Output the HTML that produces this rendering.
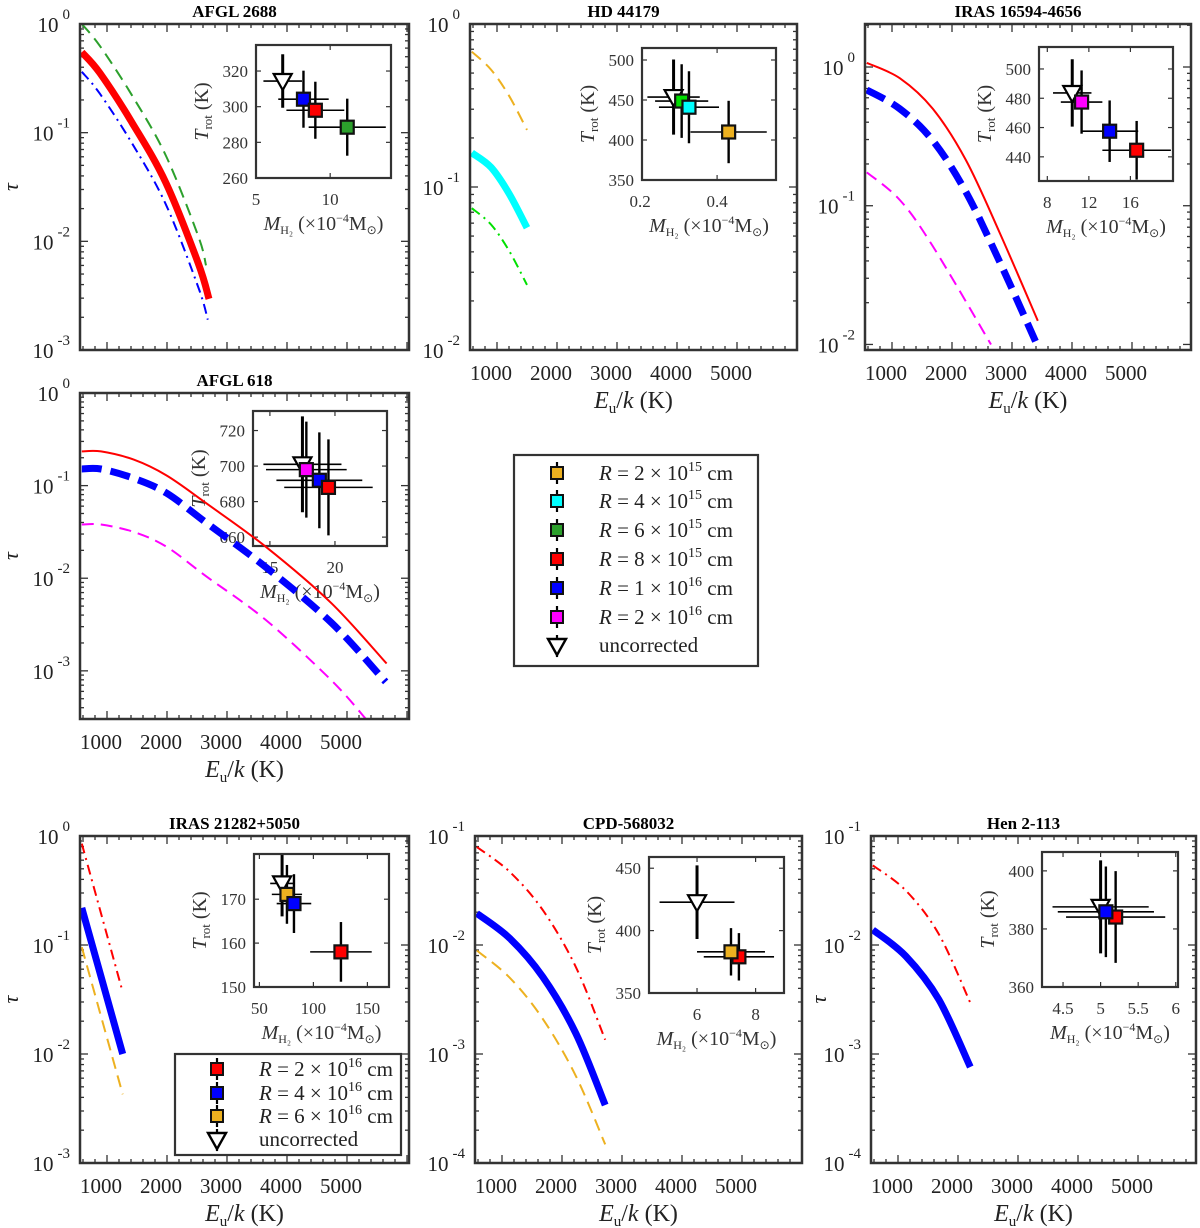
<!DOCTYPE html>
<html><head><meta charset="utf-8"><style>
html,body{margin:0;padding:0;background:#fff;}
svg{display:block;font-family:"Liberation Serif",serif;}
</style></head><body>
<svg id="fig" width="1200" height="1228" viewBox="0 0 1200 1228" xmlns="http://www.w3.org/2000/svg"></svg>
<script>
// ===== Panel 1: AFGL 2688 =====
const p1GreenE=[680,980,1520,2080,2620,2750];
const p1GreenTau=[1.0,0.63,0.219,0.0617,0.0112,0.006];
const p1RedE=[680,980,1520,2080,2620,2800];
const p1RedTau=[0.55,0.355,0.123,0.0347,0.0063,0.00295];
const p1BlueE=[680,980,1520,2080,2620,2780];
const p1BlueTau=[0.363,0.229,0.0794,0.0219,0.0038,0.0019];
// ===== Panel 2: HD 44179 =====
const p2E=[680,1000,1300,1600];
const p2OrangeTau=[0.676,0.525,0.363,0.224];
const p2CyanTau=[0.162,0.132,0.0912,0.0562];
const p2GreenTau=[0.0741,0.0589,0.0407,0.0251];
// ===== Panel 3: IRAS 16594-4656 =====
const p3RedE=[680,1230,1780,2330,2890,3530];
const p3RedTau=[1.07,0.83,0.50,0.214,0.0646,0.0148];
const p3BlueE=[680,1230,1780,2330,2890,3515];
const p3BlueTau=[0.684,0.50,0.295,0.126,0.0398,0.01];
const p3MagE=[680,1230,1776,2750];
const p3MagTau=[0.174,0.11,0.0513,0.01];
// ===== Panel 4: AFGL 618 =====
const p4RedE=[680,1000,1545,2090,2753,3745,4840,5760];
const p4RedTau=[0.234,0.234,0.191,0.129,0.0646,0.0219,0.00537,0.0012];
const p4BlueE=[680,1000,1545,2090,2753,3745,4840,5745];
const p4BlueTau=[0.151,0.151,0.120,0.0832,0.0398,0.0132,0.00331,0.00076];
const p4MagE=[680,1000,1545,2090,2753,3745,4840,5420];
const p4MagTau=[0.038,0.038,0.0316,0.0219,0.0105,0.00355,0.00079,0.0003];
// ===== Panel 7: IRAS 21282+5050 =====
const p7E=[680,1362];
const p7RedTau=[0.85,0.037];
const p7BlueTau=[0.219,0.01];
const p7OrangeTau=[0.0955,0.00427];
// ===== Panel 8: CPD-568032 =====
const p8E=[680,1230,1780,2330,2820];
const p8RedTau=[0.0794,0.0468,0.0209,0.0063,0.00135];
const p8BlueTau=[0.0195,0.0115,0.0051,0.00155,0.00034];
const p8OrangeTau=[0.0089,0.005,0.0021,0.00063,0.000148];
// ===== Panel 9: Hen 2-113 =====
const p9E=[680,1230,1780,2305];
const p9RedTau=[0.0537,0.0316,0.0126,0.00295];
const p9BlueTau=[0.0138,0.0079,0.00316,0.00076];
// ===== Insets: mass, mass error, Trot, Trot error =====
const i1Mass=[6.8,8.2,9.0,11.15], i1MassErr=[1.3,1.7,1.95,2.6], i1Trot=[314.4,304.2,298,288.5], i1TrotErr=[15,16,16,16];
const i1Kind=['tri','blue','red','green'];
const i2Mass=[0.287,0.308,0.327,0.43], i2MassErr=[0.068,0.069,0.078,0.099], i2Trot=[453.7,448.7,441,410], i2TrotErr=[47,46,45,39];
const i2Kind=['tri','green2','cyan','orange'];
const i3Mass=[10.4,11.3,14.0,16.6], i3MassErr=[1.85,2.0,2.75,3.3], i3Trot=[483.6,477.4,457.5,444.5], i3TrotErr=[23,21.6,21,20];
const i3Kind=['tri','mag','blue','red'];
const i4Mass=[17.5,17.8,18.8,19.5], i4MassErr=[3.0,3.1,3.3,3.4], i4Trot=[701,698,692,688], i4TrotErr=[27,27,27,27];
const i4Kind=['tri','mag','blue','red'];
const i7Mass=[71,75.5,82,125.5], i7MassErr=[11,14,16,28.5], i7Trot=[173.6,171.1,169,158], i7TrotErr=[7.5,6.7,6.7,6.8];
const i7Kind=['tri','orange','blue','red'];
const i8Mass=[6.0,7.43,7.16], i8MassErr=[1.28,1.2,1.16], i8Trot=[422.8,379,383], i8TrotErr=[29.5,19,19];
const i8Kind=['tri','red','orange'];
const i9Mass=[5.0,5.2,5.07], i9MassErr=[0.64,0.66,0.64], i9Trot=[387.6,384.1,385.9], i9TrotErr=[16,15.8,15.6];
const i9Kind=['tri','red','blue'];
// legend entries
const legendLabels=['2','4','6','8','1','2'];
const legendExps=['15','15','15','15','16','16'];
const legend2Labels=['2','4','6'];
const legend2Exps=['16','16','16'];

const NS='http://www.w3.org/2000/svg';
const svg=document.getElementById('fig');
const COL={red:'#ff0000',blue:'#0000ff',green:'#2ca02c',green2:'#00dd00',lime:'#00e000',cyan:'#00ffff',orange:'#edb120',mag:'#ff00ff'};
function mk(tag,parent,attrs){const e=document.createElementNS(NS,tag);for(const k in attrs)e.setAttribute(k,attrs[k]);parent.appendChild(e);return e;}
const XMIN=650, PXU=0.06;
let clipId=0;

function makePanel(c){
  const g=mk('g',svg,{});
  
  
  const sx=v=>c.x0+(v-XMIN)*PXU;
  const sy=v=>c.y0+(c.ymax-Math.log10(v))/(c.ymax-c.ymin)*(c.y1-c.y0);
  const syl=l=>c.y0+(c.ymax-l)/(c.ymax-c.ymin)*(c.y1-c.y0);
  const t=mk('text',g,{x:(c.x0+c.x1)/2-10,y:c.y0-7,'text-anchor':'middle','font-size':17,'font-weight':'bold',fill:'#000'});
  t.textContent=c.title;
  
  
  const tk=mk('g',g,{stroke:'#333','stroke-width':1.3});
  
  
  for(let d=Math.floor(c.ymin);d<=Math.ceil(c.ymax);d++){
    for(let k=1;k<=9;k++){
      const l=d+Math.log10(k);
      if(l<c.ymin-1e-6||l>c.ymax+1e-6)continue;
      const y=syl(l), len=k===1?8:4;
      mk('line',tk,{x1:c.x0,y1:y,x2:c.x0+len,y2:y});
      mk('line',tk,{x1:c.x1,y1:y,x2:c.x1-len,y2:y});
      if(k===1){
        const lb=mk('text',g,{x:c.x0-10,y:y+8,'text-anchor':'end','font-size':21,fill:'#222'});
        lb.innerHTML='10<tspan dx="4" dy="-13" font-size="15">'+d+'</tspan>';
        
        
      }
    }
  }
  for(let v=700;v<6200;v+=200){
    const x=sx(v); if(x<c.x0||x>c.x1)continue;
    const major=((v-100)%1000===0);
    const len=major?8:4;
    mk('line',tk,{x1:x,y1:c.y1,x2:x,y2:c.y1-len});
    mk('line',tk,{x1:x,y1:c.y0,x2:x,y2:c.y0+len});
  }
  if(c.xlabels){
    for(let v=1000;v<=5000;v+=1000){
      const lb=mk('text',g,{x:sx(v),y:c.y1+30,'text-anchor':'middle','font-size':21,fill:'#222'});
      lb.textContent=v;
      
      
    }
    const xl=mk('text',g,{x:(c.x0+c.x1)/2,y:c.y1+58,'text-anchor':'middle','font-size':24,fill:'#222'});
    xl.innerHTML='<tspan font-style="italic">E</tspan><tspan font-size="15" dy="5">u</tspan><tspan dy="-5">/</tspan><tspan font-style="italic">k</tspan> (K)';
    
    
  }
  if(c.tauX!==undefined){
    const yl=mk('text',g,{x:c.tauX,y:(c.y0+c.y1)/2+6,'text-anchor':'middle','font-size':22,'font-style':'italic',fill:'#222',transform:'rotate(-90 '+c.tauX+' '+((c.y0+c.y1)/2)+')'});
    yl.textContent='τ';
    
    
  }
  const cid='clip'+(clipId++);
  const cp=mk('clipPath',g,{id:cid});
  mk('rect',cp,{x:c.x0,y:c.y0,width:c.x1-c.x0,height:c.y1-c.y0});
  return {g,sx,sy,cid,c};
}
function finishPanel(P){
  const b=mk('rect',P.g,{x:P.c.x0,y:P.c.y0,width:P.c.x1-P.c.x0,height:P.c.y1-P.c.y0,fill:'none',stroke:'#333','stroke-width':2.5});
  
  
}
function curve(P,E,T,color,width,dash,name){
  const pts=E.map((e,i)=>[P.sx(e),P.sy(T[i])]);
  let d='M'+pts[0][0].toFixed(1)+','+pts[0][1].toFixed(1);
  for(let i=0;i<pts.length-1;i++){
    const p0=pts[Math.max(0,i-1)],p1=pts[i],p2=pts[i+1],p3=pts[Math.min(pts.length-1,i+2)];
    const c1=[p1[0]+(p2[0]-p0[0])/6,p1[1]+(p2[1]-p0[1])/6];
    const c2=[p2[0]-(p3[0]-p1[0])/6,p2[1]-(p3[1]-p1[1])/6];
    d+='C'+c1[0].toFixed(1)+','+c1[1].toFixed(1)+' '+c2[0].toFixed(1)+','+c2[1].toFixed(1)+' '+p2[0].toFixed(1)+','+p2[1].toFixed(1);
  }
  const a={d,fill:'none',stroke:color,'stroke-width':width,'stroke-linejoin':'round','clip-path':'url(#'+P.cid+')'};
  if(dash)a['stroke-dasharray']=dash;
  const p=mk('path',P.g,a);
  
  
}
function marker(g,kind,x,y){
  if(kind==='tri'){
    const m=mk('polygon',g,{points:(x-9)+','+(y-7)+' '+(x+9)+','+(y-7)+' '+x+','+(y+9),fill:'#fff',stroke:'#000','stroke-width':2.2});
    
    
  } else {
    const m=mk('rect',g,{x:x-6.5,y:y-6.5,width:13,height:13,fill:COL[kind],stroke:'#111','stroke-width':2.2});
    
    
  }
}
function inset(parentG,b,xlim,ylim,xt,yt,mass,mErr,trot,tErr,kinds){
  const g=mk('g',parentG,{});
  
  
  const [x0,y0,x1,y1]=b;
  const sx=v=>x0+(v-xlim[0])/(xlim[1]-xlim[0])*(x1-x0);
  const sy=v=>y1-(v-ylim[0])/(ylim[1]-ylim[0])*(y1-y0);
  mk('rect',g,{x:x0,y:y0,width:x1-x0,height:y1-y0,fill:'#fff'});
  const tk=mk('g',g,{stroke:'#333','stroke-width':1.2});
  for(const v of yt){const y=sy(v);
    if(y>=y0-0.5&&y<=y1+0.5){mk('line',tk,{x1:x0,y1:y,x2:x0+5,y2:y});mk('line',tk,{x1:x1,y1:y,x2:x1-5,y2:y});}
    const l=mk('text',g,{x:x0-8,y:y+6,'text-anchor':'end','font-size':17,fill:'#333'});l.textContent=v;
    
    }
  for(const v of xt){const x=sx(v);
    if(x>=x0-0.5&&x<=x1+0.5){mk('line',tk,{x1:x,y1:y1,x2:x,y2:y1-5});mk('line',tk,{x1:x,y1:y0,x2:x,y2:y0+5});}
    const l=mk('text',g,{x:x,y:y1+27,'text-anchor':'middle','font-size':17,fill:'#333'});l.textContent=v;
    
    }
  const cx=(x0+x1)/2, cy=(y0+y1)/2;
  const yl=mk('text',g,{x:x0-48,y:cy,'text-anchor':'middle','font-size':20,fill:'#333',transform:'rotate(-90 '+(x0-48)+' '+cy+')'});
  yl.innerHTML='<tspan font-style="italic">T</tspan><tspan font-size="13" dy="4">rot</tspan><tspan dy="-4"> (K)</tspan>';
  
  
  const xl=mk('text',g,{x:cx,y:y1+52,'text-anchor':'middle','font-size':20,fill:'#333'});
  xl.innerHTML='<tspan font-style="italic">M</tspan><tspan font-size="12" dy="4">H₂</tspan><tspan dy="-4"> (×10</tspan><tspan font-size="12" dy="-8">−4</tspan><tspan dy="8">M</tspan><tspan font-size="12" dy="4">⊙</tspan><tspan dy="-4">)</tspan>';
  
  
  const cid='clip'+(clipId++);
  const cp=mk('clipPath',g,{id:cid});
  mk('rect',cp,{x:x0,y:y0,width:x1-x0,height:y1-y0});
  const pg=mk('g',g,{'clip-path':'url(#'+cid+')'});
  for(let i=0;i<mass.length;i++){
    const x=sx(mass[i]),y=sy(trot[i]);
    const eb=mk('g',pg,{stroke:'#000'});
    
    
    mk('line',eb,{x1:x,y1:sy(trot[i]-tErr[i]),x2:x,y2:sy(trot[i]+tErr[i]),'stroke-width':kinds[i]==='tri'?3:2.4});
    mk('line',eb,{x1:sx(mass[i]-mErr[i]),y1:y,x2:sx(mass[i]+mErr[i]),y2:y,'stroke-width':1.6});
  }
  for(let i=0;i<mass.length;i++)marker(pg,kinds[i],sx(mass[i]),sy(trot[i]));
  const b2=mk('rect',g,{x:x0,y:y0,width:x1-x0,height:y1-y0,fill:'none',stroke:'#333','stroke-width':2.2});
  
  
}
function legend(box,rowsY,mx,tx,labels,exps,kinds){
  const g=mk('g',svg,{});
  
  
  const r=mk('rect',g,{x:box[0],y:box[1],width:box[2]-box[0],height:box[3]-box[1],fill:'#fff',stroke:'#333','stroke-width':2.2});
  
  
  for(let i=0;i<rowsY.length;i++){
    const y=rowsY[i];
    const e=mk('g',g,{});
    
    
    mk('line',e,{x1:mx,y1:y-11,x2:mx,y2:y+11,stroke:'#000','stroke-width':2.2});
    if(i<labels.length){
      mk('rect',e,{x:mx-6,y:y-6,width:12,height:12,fill:COL[kinds[i]],stroke:'#111','stroke-width':2});
      const t=mk('text',e,{x:tx,y:y+7,'font-size':21,fill:'#222'});
      t.innerHTML='<tspan font-style="italic">R</tspan> = '+labels[i]+' × 10<tspan font-size="14" dy="-9">'+exps[i]+'</tspan><tspan dy="9"> cm</tspan>';
    } else {
      mk('polygon',e,{points:(mx-9)+','+(y-7)+' '+(mx+9)+','+(y-7)+' '+mx+','+(y+9),fill:'#fff',stroke:'#000','stroke-width':2.4});
      const t=mk('text',e,{x:tx,y:y+6,'font-size':21,fill:'#222'});
      t.textContent='uncorrected';
    }
  }
}

let P;
P=makePanel({name:'panel-afgl-2688',x0:80,y0:24,x1:409,y1:350,ymin:-3,ymax:0,title:'AFGL 2688',xlabels:false,tauX:12});
inset(P.g,[256,45,391,178],[5,14.1],[260,334.6],[5,10],[260,280,300,320],i1Mass,i1MassErr,i1Trot,i1TrotErr,i1Kind);
curve(P,p1GreenE,p1GreenTau,COL.green,2,'12,7','curve-6e15');
curve(P,p1RedE,p1RedTau,COL.red,7,null,'curve-8e15');
curve(P,p1BlueE,p1BlueTau,COL.blue,2,'10,5,2,5','curve-1e16');
finishPanel(P);

P=makePanel({name:'panel-hd-44179',x0:470,y0:24,x1:797,y1:350,ymin:-2,ymax:0,title:'HD 44179',xlabels:true});
inset(P.g,[642,48,776,180],[0.205,0.553],[350,515],[0.2,0.4],[350,400,450,500],i2Mass,i2MassErr,i2Trot,i2TrotErr,i2Kind);
curve(P,p2E,p2OrangeTau,COL.orange,2,'12,7','curve-2e15');
curve(P,p2E,p2CyanTau,COL.cyan,7,null,'curve-4e15');
curve(P,p2E,p2GreenTau,COL.lime,2,'10,5,2,5','curve-6e15');
finishPanel(P);

P=makePanel({name:'panel-iras-16594',x0:865,y0:24,x1:1191,y1:350,ymin:-2.04,ymax:0.31,title:'IRAS 16594-4656',xlabels:true});
inset(P.g,[1039,47,1173,181],[7.2,20.1],[423.5,515],[8,12,16],[440,460,480,500],i3Mass,i3MassErr,i3Trot,i3TrotErr,i3Kind);
curve(P,p3RedE,p3RedTau,COL.red,2,null,'curve-8e15');
curve(P,p3BlueE,p3BlueTau,COL.blue,7,'20,9','curve-1e16');
curve(P,p3MagE,p3MagTau,COL.mag,2,'12,7','curve-2e16');
finishPanel(P);

P=makePanel({name:'panel-afgl-618',x0:80,y0:393,x1:409,y1:719,ymin:-3.52,ymax:0,title:'AFGL 618',xlabels:true,tauX:12});
inset(P.g,[253,411,387,546],[13.7,24],[655,731],[15,20],[660,680,700,720],i4Mass,i4MassErr,i4Trot,i4TrotErr,i4Kind);
curve(P,p4RedE,p4RedTau,COL.red,2,null,'curve-8e15');
curve(P,p4BlueE,p4BlueTau,COL.blue,7,'20,9','curve-1e16');
curve(P,p4MagE,p4MagTau,COL.mag,2,'12,7','curve-2e16');
finishPanel(P);

P=makePanel({name:'panel-iras-21282',x0:80,y0:836,x1:409,y1:1163,ymin:-3,ymax:0,title:'IRAS 21282+5050',xlabels:true,tauX:12});
inset(P.g,[254,854,389,987],[45,170],[150,180.3],[50,100,150],[150,160,170],i7Mass,i7MassErr,i7Trot,i7TrotErr,i7Kind);
curve(P,p7E,p7RedTau,COL.red,2,'10,5,2,5','curve-2e16');
curve(P,p7E,p7BlueTau,COL.blue,7,null,'curve-4e16');
curve(P,p7E,p7OrangeTau,COL.orange,2,'12,7','curve-6e16');
finishPanel(P);

P=makePanel({name:'panel-cpd-568032',x0:475,y0:836,x1:802,y1:1163,ymin:-4,ymax:-1,title:'CPD-568032',xlabels:true});
inset(P.g,[649,857,784,993],[4.36,8.97],[350,459],[6,8],[350,400,450],i8Mass,i8MassErr,i8Trot,i8TrotErr,i8Kind);
curve(P,p8E,p8RedTau,COL.red,2,'10,5,2,5','curve-2e16');
curve(P,p8E,p8BlueTau,COL.blue,7,null,'curve-4e16');
curve(P,p8E,p8OrangeTau,COL.orange,2,'12,7','curve-6e16');
finishPanel(P);

P=makePanel({name:'panel-hen-2-113',x0:871,y0:836,x1:1196,y1:1163,ymin:-4,ymax:-1,title:'Hen 2-113',xlabels:true,tauX:820});
inset(P.g,[1042,852,1178,987],[4.22,6.03],[360,406.5],[4.5,5,5.5,6],[360,380,400],i9Mass,i9MassErr,i9Trot,i9TrotErr,i9Kind);
curve(P,p9E,p9RedTau,COL.red,2,'10,5,2,5','curve-2e16');
curve(P,p9E,p9BlueTau,COL.blue,7,null,'curve-4e16');
finishPanel(P);

legend([514,455,758,666],[473,501,530,559,588,617,646],557,599,legendLabels,legendExps,['orange','cyan','green','red','blue','mag']);
legend([175,1054,401,1155],[1069,1093,1116,1140],217,259,legend2Labels,legend2Exps,['red','blue','orange']);
</script>
</body></html>
